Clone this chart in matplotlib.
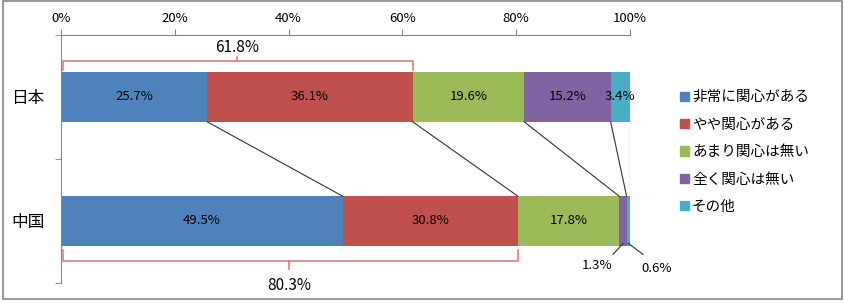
import matplotlib
matplotlib.use("Agg")
import matplotlib.pyplot as plt
from matplotlib.patches import Patch, Rectangle

plt.rcParams['font.family'] = ['Noto Sans CJK JP', 'DejaVu Sans']

countries = ['日本', '中国']
answers = ['非常に関心がある', 'やや関心がある', 'あまり関心は無い', '全く関心は無い', 'その他']
colors = ['#4F81BD', '#C0504D', '#9BBB59', '#8064A2', '#4BACC6']
japan = [25.7, 36.1, 19.6, 15.2, 3.4]
china = [49.5, 30.8, 17.8, 1.3, 0.6]
ticks = [0, 20, 40, 60, 80, 100]

fig = plt.figure(figsize=(8.44, 3.03), dpi=100)
ax = fig.add_axes([61 / 844, 1 - 283 / 303, 569 / 844, 248 / 303])

bar_h = 0.4
lefts = [[0], [0]]
for row, vals in enumerate([japan, china]):
    left = 0
    for i, v in enumerate(vals):
        ax.barh(row, v, left=left, height=bar_h, color=colors[i])
        if v >= 3:
            ax.text(left + v / 2, row, f'{v}%', ha='center', va='center', fontsize=9.5)
        left += v
        lefts[row].append(left)

# lines joining the segment edges
for a, b in zip(lefts[0][1:], lefts[1][1:]):
    ax.plot([a, b], [bar_h / 2, 1 - bar_h / 2], color='#333333', lw=0.8)

# brackets showing "interested" totals
bc = '#E8787A'
tot_j = japan[0] + japan[1]
tot_c = china[0] + china[1]
ax.plot([0.3, 0.3, tot_j, tot_j], [-0.22, -0.29, -0.29, -0.22], color=bc, lw=1.2, clip_on=False)
ax.plot([tot_j / 2, tot_j / 2], [-0.29, -0.32], color=bc, lw=1.2, clip_on=False)
ax.text(tot_j / 2, -0.40, f'{tot_j:.1f}%', ha='center', va='center', fontsize=11)
ax.plot([0.3, 0.3, tot_c, tot_c], [1.23, 1.32, 1.32, 1.23], color=bc, lw=1.2, clip_on=False)
ax.plot([tot_c / 2, tot_c / 2], [1.32, 1.39], color=bc, lw=1.2, clip_on=False)
ax.text(tot_c / 2, 1.52, f'{tot_c:.1f}%', ha='center', va='center', fontsize=11, clip_on=False)

# small segments labelled outside
ax.plot([98.8, 97.0], [1.18, 1.27], color='#333333', lw=0.8, clip_on=False)
ax.text(94.2, 1.36, f'{china[3]}%', ha='center', va='center', fontsize=9.5)
ax.plot([99.7, 102.3], [1.18, 1.27], color='#333333', lw=0.8, clip_on=False)
ax.text(104.7, 1.38, f'{china[4]}%', ha='center', va='center', fontsize=9.5, clip_on=False)

ax.set_xlim(0, 100)
ax.set_ylim(1.5, -0.5)
ax.xaxis.tick_top()
ax.set_xticks(ticks)
ax.set_xticklabels([f'{t}%' for t in ticks], fontsize=9.5)
ax.set_yticks([0, 1])
ax.set_yticklabels(countries, fontsize=12)
ax.set_yticks([-0.5, 0.5, 1.5], minor=True)
ax.tick_params(axis='y', which='major', length=0, pad=12)
ax.tick_params(axis='y', which='minor', length=4, color='#868686')
ax.tick_params(axis='x', length=4, color='#868686', pad=3)
for s in ['right', 'bottom']:
    ax.spines[s].set_visible(False)
for s in ['top', 'left']:
    ax.spines[s].set_color('#868686')

handles = [Patch(color=c) for c in colors]
fig.legend(handles, answers, loc='upper left', bbox_to_anchor=(673 / 844, 1 - 83 / 303),
           frameon=False, fontsize=10.5, handlelength=0.6, handleheight=0.6,
           handletextpad=0.2, labelspacing=0.92, borderpad=0)

fig.patches.append(Rectangle((3 / 844, 4 / 303), 839 / 844, 298 / 303, transform=fig.transFigure,
                             fill=False, edgecolor='#868686', lw=1.2))

fig.savefig('out.png', dpi=100)
